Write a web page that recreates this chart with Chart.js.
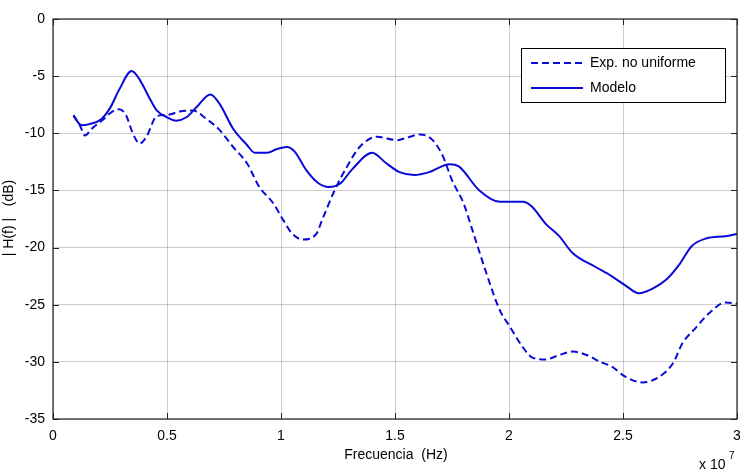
<!DOCTYPE html>
<html>
<head>
<meta charset="utf-8">
<script src="https://cdn.jsdelivr.net/npm/chart.js@4/dist/chart.umd.min.js"></script>
<style>
  html, body { margin: 0; padding: 0; background: #fff; }
  #wrap { width: 740px; height: 472px; }
</style>
</head>
<body>
<div id="wrap"><canvas id="respChart" width="740" height="472"></canvas></div>
<script>
// frequency in units of 1e7 Hz
let expFreq = [0.09, 0.12, 0.14, 0.17, 0.22, 0.26, 0.29, 0.32, 0.35, 0.38, 0.41, 0.455, 0.5, 0.555, 0.615, 0.67, 0.73, 0.79, 0.85, 0.905, 0.965, 1.01, 1.05, 1.095, 1.155, 1.18, 1.235, 1.29, 1.345, 1.42, 1.51, 1.55, 1.61, 1.665, 1.71, 1.75, 1.8, 1.84, 1.9, 1.96, 2.0, 2.06, 2.1, 2.16, 2.22, 2.28, 2.34, 2.4, 2.45, 2.51, 2.585, 2.66, 2.72, 2.76, 2.82, 2.88, 2.95, 3.0];
let expDb = [-8.4, -9.4, -10.2, -9.6, -8.8, -8.1, -7.9, -8.4, -10.0, -10.9, -10.3, -8.5, -8.4, -8.1, -8.0, -8.7, -9.7, -11.2, -12.6, -14.7, -16.1, -17.6, -18.8, -19.3, -18.8, -17.6, -15.0, -12.9, -11.2, -10.3, -10.6, -10.4, -10.1, -10.6, -12.0, -14.1, -16.1, -18.5, -22.2, -25.5, -26.8, -28.7, -29.6, -29.8, -29.4, -29.1, -29.4, -30.0, -30.4, -31.3, -31.8, -31.3, -30.1, -28.4, -27.0, -25.7, -24.8, -24.9];

let modFreq = [0.09, 0.126, 0.16, 0.21, 0.25, 0.29, 0.345, 0.38, 0.42, 0.455, 0.5, 0.54, 0.585, 0.63, 0.69, 0.73, 0.79, 0.85, 0.885, 0.94, 0.98, 1.025, 1.06, 1.11, 1.16, 1.21, 1.26, 1.31, 1.4, 1.46, 1.52, 1.585, 1.65, 1.74, 1.78, 1.87, 1.96, 2.06, 2.1, 2.16, 2.22, 2.28, 2.38, 2.45, 2.51, 2.57, 2.63, 2.69, 2.75, 2.8, 2.865, 2.95, 3.0];
let modDb = [-8.5, -9.3, -9.2, -8.8, -7.8, -6.2, -4.55, -5.3, -6.8, -8.0, -8.6, -8.9, -8.6, -7.7, -6.6, -7.4, -9.6, -11.0, -11.7, -11.7, -11.4, -11.2, -11.6, -13.2, -14.3, -14.7, -14.4, -13.2, -11.7, -12.6, -13.4, -13.65, -13.4, -12.7, -12.9, -15.0, -16.0, -16.0, -16.4, -17.9, -19.0, -20.5, -21.7, -22.5, -23.3, -24.0, -23.6, -22.8, -21.4, -19.9, -19.2, -19.0, -18.8];

let seriesLabels = ['Exp. no uniforme', 'Modelo'];
let xTicks = [0, 0.5, 1, 1.5, 2, 2.5, 3];
let yTicks = [0, -5, -10, -15, -20, -25, -30, -35];

let lineColor = '#0a0ad8';
let font = '"Liberation Sans", Arial, Helvetica, sans-serif';

let toPoints = (xs, ys) => xs.map((x, i) => ({ x: x, y: ys[i] }));

// MATLAB style frame: inward ticks, axis titles, legend box, exponent
let matlabFrame = {
  id: 'matlabFrame',
  afterDraw(chart) {
    let ctx = chart.ctx;
    let a = chart.chartArea;
    let xs = chart.scales.x;
    let ys = chart.scales.y;
    ctx.save();

    ctx.strokeStyle = '#222';
    ctx.lineWidth = 1;
    ctx.beginPath();
    xTicks.forEach((t) => {
      let px = Math.round(xs.getPixelForValue(t)) + 0.5;
      ctx.moveTo(px, a.bottom); ctx.lineTo(px, a.bottom - 6);
      ctx.moveTo(px, a.top); ctx.lineTo(px, a.top + 6);
    });
    yTicks.forEach((t) => {
      let py = Math.round(ys.getPixelForValue(t)) + 0.5;
      ctx.moveTo(a.left, py); ctx.lineTo(a.left + 6, py);
      ctx.moveTo(a.right, py); ctx.lineTo(a.right - 6, py);
    });
    ctx.stroke();

    ctx.lineWidth = 1.2;
    ctx.strokeRect(a.left, a.top, a.right - a.left, a.bottom - a.top);

    ctx.fillStyle = '#000';
    ctx.font = '14px ' + font;
    ctx.textAlign = 'center';
    ctx.textBaseline = 'middle';
    ctx.fillText('Frecuencia  (Hz)', 396, 455);

    ctx.save();
    ctx.translate(9, 218);
    ctx.rotate(-Math.PI / 2);
    ctx.fillText('| H(f) |   (dB)', 0, 0);
    ctx.restore();

    ctx.textAlign = 'left';
    ctx.fillText('x 10', 699, 465);
    ctx.font = '10px ' + font;
    ctx.fillText('7', 729, 456);

    // legend
    let lx = 521, ly = 48, lw = 204, lh = 54;
    ctx.fillStyle = '#fff';
    ctx.fillRect(lx, ly, lw, lh);
    ctx.strokeStyle = '#000';
    ctx.lineWidth = 1;
    ctx.strokeRect(lx + 0.5, ly + 0.5, lw, lh);
    chart.data.datasets.forEach((ds, i) => {
      let yy = ly + 15 + i * 25;
      ctx.strokeStyle = ds.borderColor;
      ctx.lineWidth = 2;
      ctx.setLineDash(ds.borderDash || []);
      ctx.beginPath();
      ctx.moveTo(lx + 10, yy);
      ctx.lineTo(lx + 62, yy);
      ctx.stroke();
      ctx.setLineDash([]);
      ctx.fillStyle = '#000';
      ctx.font = '14px ' + font;
      ctx.textBaseline = 'middle';
      ctx.fillText(ds.label, lx + 69, yy);
    });

    ctx.restore();
  },
};

let ctx = document.getElementById('respChart').getContext('2d');

new Chart(ctx, {
  type: 'line',
  data: {
    datasets: [
      {
        label: seriesLabels[0],
        data: toPoints(expFreq, expDb),
        borderColor: lineColor,
        borderWidth: 2,
        borderDash: [7, 4],
        pointRadius: 0,
        fill: false,
        tension: 0.4,
        cubicInterpolationMode: 'monotone',
      },
      {
        label: seriesLabels[1],
        data: toPoints(modFreq, modDb),
        borderColor: lineColor,
        borderWidth: 2,
        pointRadius: 0,
        fill: false,
        tension: 0.4,
        cubicInterpolationMode: 'monotone',
      },
    ],
  },
  options: {
    responsive: false,
    animation: false,
    layout: { padding: { top: 19, right: 3, left: 0, bottom: 0 } },
    plugins: {
      legend: { display: false },
      title: { display: false },
      tooltip: { enabled: false },
    },
    scales: {
      x: {
        type: 'linear',
        min: 0,
        max: 3,
        afterBuildTicks: (scale) => {
          scale.ticks = xTicks.map((v) => ({ value: v }));
        },
        afterFit: (scale) => {
          scale.height = 53;
          scale.paddingLeft = 0;
          scale.paddingRight = 0;
        },
        grid: { color: 'rgba(0,0,0,0.2)', drawTicks: false },
        border: { display: false },
        ticks: {
          color: '#000',
          font: { family: font, size: 14 },
          padding: 9,
          maxRotation: 0,
          autoSkip: false,
          callback: (v) => String(v),
        },
      },
      y: {
        type: 'linear',
        min: -35,
        max: 0,
        afterBuildTicks: (scale) => {
          scale.ticks = yTicks.map((v) => ({ value: v }));
        },
        afterFit: (scale) => {
          scale.width = 53;
          scale.paddingTop = 0;
          scale.paddingBottom = 0;
        },
        grid: { color: 'rgba(0,0,0,0.2)', drawTicks: false },
        border: { display: false },
        ticks: {
          color: '#000',
          font: { family: font, size: 14 },
          padding: 8,
          autoSkip: false,
          callback: (v) => String(v),
        },
      },
    },
  },
  plugins: [matlabFrame],
});
</script>
</body>
</html>
